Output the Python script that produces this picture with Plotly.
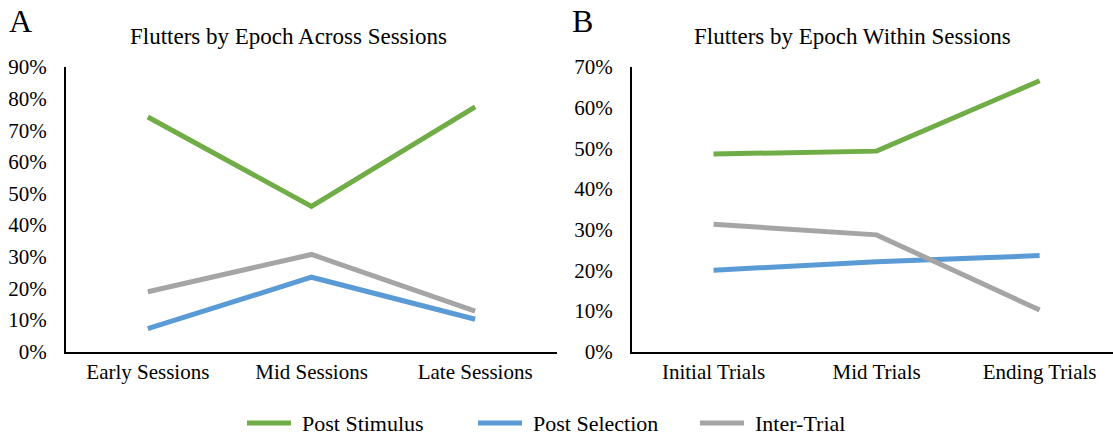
import plotly.graph_objects as go

# Flutter proportions by epoch
sessions = ["Early Sessions", "Mid Sessions", "Late Sessions"]
trials = ["Initial Trials", "Mid Trials", "Ending Trials"]

post_stimulus_sessions = [0.742, 0.459, 0.774]
post_selection_sessions = [0.072, 0.235, 0.102]
inter_trial_sessions = [0.189, 0.307, 0.128]

post_stimulus_trials = [0.486, 0.493, 0.666]
post_selection_trials = [0.200, 0.221, 0.236]
inter_trial_trials = [0.313, 0.287, 0.102]

series_names = ["Post Stimulus", "Post Selection", "Inter-Trial"]
colors = ["#70AD47", "#5B9BD5", "#A5A5A5"]

FONT = "Liberation Serif, Times New Roman, serif"
W, H = 1113, 436

fig = go.Figure()

panel_a = [post_stimulus_sessions, post_selection_sessions, inter_trial_sessions]
panel_b = [post_stimulus_trials, post_selection_trials, inter_trial_trials]

for name, color, ya in zip(series_names, colors, panel_a):
    fig.add_trace(go.Scatter(x=sessions, y=ya, mode="lines", name=name,
                             line=dict(color=color, width=5),
                             showlegend=False, xaxis="x", yaxis="y"))
for name, color, yb in zip(series_names, colors, panel_b):
    fig.add_trace(go.Scatter(x=trials, y=yb, mode="lines", name=name,
                             line=dict(color=color, width=5),
                             showlegend=False, xaxis="x2", yaxis="y2"))

y_bottom = (H - 351.5) / H
y_top = (H - 67) / H

axis_common = dict(showline=True, linecolor="black", linewidth=2,
                   showgrid=False, zeroline=False, ticks="",
                   automargin=False,
                   tickfont=dict(family=FONT, size=21, color="black"))

fig.update_layout(
    width=W, height=H,
    margin=dict(l=0, r=0, t=0, b=0, autoexpand=False),
    paper_bgcolor="white", plot_bgcolor="white",
    font=dict(family=FONT, color="black"),
    showlegend=False,
    xaxis=dict(domain=[66 / W, 557 / W], range=[-0.5, 2.5], anchor="y",
               type="category", **axis_common),
    yaxis=dict(domain=[y_bottom, y_top], range=[0, 0.9], dtick=0.1,
               tickformat=".0%", anchor="x", ticklabelstandoff=13,
               **axis_common),
    xaxis2=dict(domain=[632 / W, 1.0], range=[-0.5, 2.45], anchor="y2",
                type="category", **axis_common),
    yaxis2=dict(domain=[y_bottom, y_top], range=[0, 0.7], dtick=0.1,
                tickformat=".0%", anchor="x2", ticklabelstandoff=13,
                **axis_common),
)

# Shared legend row beneath both panels
legend_y = (H - 423) / H
legend_starts = [247, 478, 700]
swatch_len = 44
for name, color, x0 in zip(series_names, colors, legend_starts):
    fig.add_shape(type="line", xref="paper", yref="paper",
                  x0=x0 / W, x1=(x0 + swatch_len) / W,
                  y0=legend_y, y1=legend_y,
                  line=dict(color=color, width=5))
    fig.add_annotation(xref="paper", yref="paper", showarrow=False,
                       xanchor="left", yanchor="middle",
                       x=(x0 + swatch_len + 9) / W, y=legend_y,
                       text=name,
                       font=dict(family=FONT, color="black", size=22))

annotations = [
    ("A", 20, 21, 32),
    ("B", 582, 21, 32),
    ("Flutters by Epoch Across Sessions", 289, 37, 23),
    ("Flutters by Epoch Within Sessions", 852, 37, 23),
]
for text, px, py, size in annotations:
    fig.add_annotation(xref="paper", yref="paper", showarrow=False,
                       xanchor="center", yanchor="middle",
                       text=text, x=px / W, y=(H - py) / H,
                       font=dict(family=FONT, color="black", size=size))

fig.write_html("out.html")
